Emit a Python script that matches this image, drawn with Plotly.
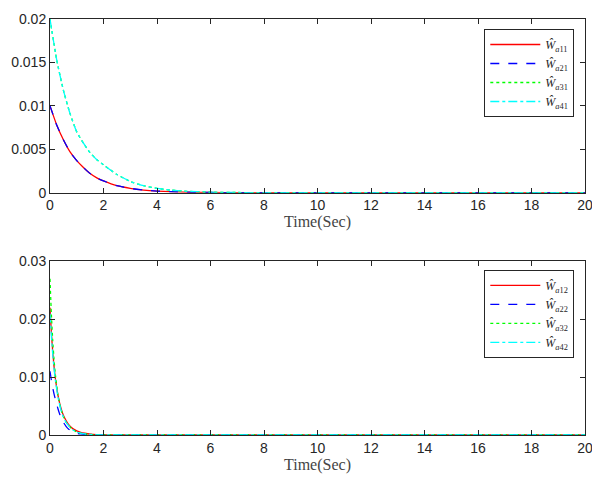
import plotly.graph_objects as go

# ---- data ----
t_top = [0, 0.25, 0.5, 0.75, 1.0, 1.25, 1.5, 1.75, 2.0, 2.5, 3.0, 3.5, 4.0, 4.5, 5.0, 6.0, 7.0, 8.0, 10.0, 20.0]
w_a11 = [0.0100, 0.0078, 0.0061, 0.0047, 0.0037, 0.0029, 0.0022, 0.0017, 0.00135, 0.0008, 0.0005, 0.0003, 0.00018, 0.00011, 0.00007, 0.00002, 0.00001, 0, 0, 0]
w_a21 = [0.0100, 0.0078, 0.0061, 0.0047, 0.0037, 0.0029, 0.0022, 0.0017, 0.00135, 0.0008, 0.0005, 0.0003, 0.00018, 0.00011, 0.00007, 0.00002, 0.00001, 0, 0, 0]
w_a31 = [0.0200, 0.0153, 0.0118, 0.0091, 0.0070, 0.0057, 0.0046, 0.0038, 0.0032, 0.0021, 0.0013, 0.0008, 0.0005, 0.0003, 0.00018, 0.00006, 0.00002, 0, 0, 0]
w_a41 = [0.0200, 0.0153, 0.0118, 0.0091, 0.0070, 0.0057, 0.0046, 0.0038, 0.0032, 0.0021, 0.0013, 0.0008, 0.0005, 0.0003, 0.00018, 0.00006, 0.00002, 0, 0, 0]

t_bot = [0, 0.05, 0.1, 0.15, 0.2, 0.3, 0.4, 0.5, 0.6, 0.7, 0.85, 1.0, 1.15, 1.3, 1.6, 2.0, 3.0, 20.0]
w_a12 = [0.0220, 0.0178, 0.0145, 0.0119, 0.0098, 0.0068, 0.0048, 0.0034, 0.0025, 0.0018, 0.0011, 0.0007, 0.00045, 0.0003, 0.0001, 0.00003, 0, 0]
w_a22 = [0.0110, 0.0095, 0.0082, 0.0071, 0.0062, 0.0045, 0.0031, 0.0022, 0.0015, 0.0010, 0.0006, 0.0003, 0.00018, 0.0001, 0.00003, 0, 0, 0]
w_a32 = [0.0270, 0.0210, 0.0165, 0.0131, 0.0105, 0.0068, 0.0046, 0.0032, 0.0022, 0.0016, 0.0009, 0.0005, 0.0003, 0.0002, 0.00005, 0, 0, 0]
w_a42 = [0.0210, 0.0172, 0.0140, 0.0115, 0.0095, 0.0065, 0.0045, 0.0031, 0.0022, 0.0016, 0.0009, 0.0005, 0.0003, 0.0002, 0.00005, 0, 0, 0]

top_ticks = [0, 0.005, 0.01, 0.015, 0.02]
top_ticklabels = ["0", "0.005", "0.01", "0.015", "0.02"]
bot_ticks = [0, 0.01, 0.02, 0.03]
bot_ticklabels = ["0", "0.01", "0.02", "0.03"]
x_ticks = list(range(0, 21, 2))

styles = [("#ff0000", "solid"), ("#0000ff", "dash"), ("#00ff00", "dot"), ("#00ffff", "dashdot")]

def lab(i, j):
    return f"<i>Ŵ</i><sub><i>a</i>{i}{j}</sub>"

fig = go.Figure()
for k, ys in enumerate([w_a11, w_a21, w_a31, w_a41]):
    c, d = styles[k]
    fig.add_trace(go.Scatter(x=t_top, y=ys, mode="lines", name=lab(k + 1, 1),
                             line=dict(color=c, dash=d, width=1.3, shape="spline", smoothing=0.5),
                             xaxis="x", yaxis="y", legend="legend"))
for k, ys in enumerate([w_a12, w_a22, w_a32, w_a42]):
    c, d = styles[k]
    fig.add_trace(go.Scatter(x=t_bot, y=ys, mode="lines", name=lab(k + 1, 2),
                             line=dict(color=c, dash=d, width=1.3, shape="spline", smoothing=0.5),
                             xaxis="x2", yaxis="y2", legend="legend2"))

axcol = "#262626"
common_x = dict(range=[0, 20], tickvals=x_ticks, ticks="inside", ticklen=5, tickcolor=axcol,
                showline=True, linecolor=axcol, linewidth=1, mirror="ticks", showgrid=False,
                zeroline=False, tickfont=dict(family="Liberation Sans, Arial", size=14, color=axcol),
                title=dict(text="Time(Sec)", font=dict(family="Liberation Serif, Times New Roman", size=16, color="#444444"), standoff=2))
common_y = dict(ticks="inside", ticklen=5, tickcolor=axcol, showline=True, linecolor=axcol, linewidth=1,
                mirror="ticks", showgrid=False, zeroline=False,
                tickfont=dict(family="Liberation Sans, Arial", size=14, color=axcol))

legstyle = dict(xanchor="right", yanchor="top", bgcolor="white", bordercolor=axcol, borderwidth=1,
                font=dict(family="Liberation Serif, Times New Roman", size=12, color=axcol),
                tracegroupgap=0, itemwidth=50)

fig.update_layout(
    width=592, height=475,
    margin=dict(l=40, r=15, t=3, b=48),
    paper_bgcolor="white", plot_bgcolor="white",
    xaxis=dict(domain=[0, 1], anchor="y", **common_x),
    yaxis=dict(domain=[0.5825, 1], anchor="x", range=[0, 0.02], tickvals=top_ticks, ticktext=top_ticklabels, **common_y),
    xaxis2=dict(domain=[0, 1], anchor="y2", **common_x),
    yaxis2=dict(domain=[0, 0.4175], anchor="x2", range=[0, 0.03], tickvals=bot_ticks, ticktext=bot_ticklabels, **common_y),
    legend=dict(x=0.98, y=0.976, **legstyle),
    legend2=dict(x=0.98, y=0.397, **legstyle),
)

fig.write_html("out.html")
